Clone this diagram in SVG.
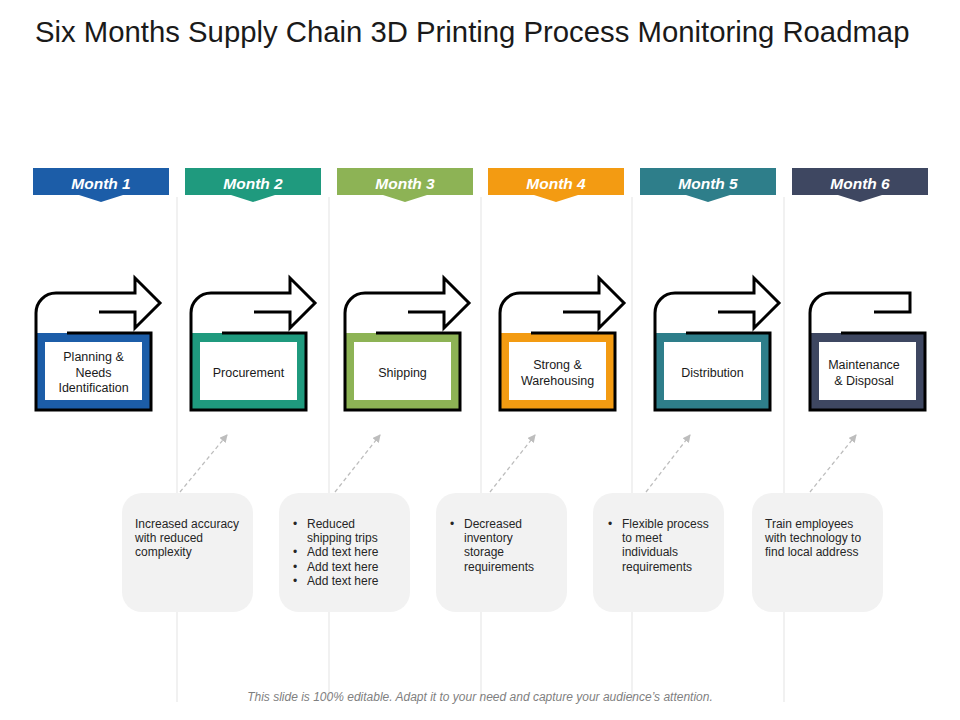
<svg xmlns="http://www.w3.org/2000/svg" xmlns:xlink="http://www.w3.org/1999/xlink" width="960" height="720" viewBox="0 0 960 720">
<style>
  text { font-family: "Liberation Sans", Arial, sans-serif; }
  .title { font-size: 29.3px; fill: #1a1a1a; }
  .tabtxt { font-size: 15.5px; font-weight: bold; font-style: italic; fill: #ffffff; text-anchor: middle; }
  .lbl { font-size: 12.5px; fill: #1a1a1a; text-anchor: middle; }
  .note { fill: #f2f2f2; }
  .ntxt { font-size: 12px; fill: #262626; }
  .sep { stroke: #e3e3e3; stroke-width: 1; }
  .flow { fill: none; stroke: #000; stroke-width: 3; stroke-linejoin: miter; }
  .inner { fill: #ffffff; }
  .dash { stroke: #bdbdbd; stroke-width: 1.3; stroke-dasharray: 4 3; fill: none; }
  .foot { font-size: 12px; font-style: italic; fill: #7f7f7f; text-anchor: middle; }
  .c1 { fill: #1c5da8; } .c2 { fill: #1f9a7e; } .c3 { fill: #8db355; }
  .c4 { fill: #f39b12; } .c5 { fill: #2e7e8a; } .c6 { fill: #3e4761; }
</style>
<defs>
  <path id="flow" d="M64,312 H100 V328 L125,303 L100,278 V293 H21 A20,20 0 0 0 1,313 V410 H116 V333 H32"/>
  <path id="flowEnd" d="M65,312 H101 V293 H21 A20,20 0 0 0 1,313 V410 H116 V333 H32"/>
  <path id="tab" d="M-68,168 H68 V195 H22 L0,202 L-22,195 H-68 Z"/>
  <marker id="ah" markerWidth="8" markerHeight="8" refX="7" refY="4" orient="auto" markerUnits="userSpaceOnUse">
    <path d="M0,0 L8,4 L0,8 Z" fill="#bdbdbd"/>
  </marker>
</defs>

<rect width="960" height="720" fill="#ffffff"/>

<text class="title" x="35" y="42">Six Months Supply Chain 3D Printing Process Monitoring Roadmap</text>

<g id="separators">
  <line class="sep" x1="177" y1="197" x2="177" y2="702"/>
  <line class="sep" x1="329" y1="197" x2="329" y2="702"/>
  <line class="sep" x1="481" y1="197" x2="481" y2="702"/>
  <line class="sep" x1="632" y1="197" x2="632" y2="702"/>
  <line class="sep" x1="784" y1="197" x2="784" y2="702"/>
</g>

<g id="month1">
  <use xlink:href="#tab" href="#tab" x="101" class="c1"/>
  <text class="tabtxt" x="101" y="189">Month 1</text>
  <rect class="c1" x="36" y="333" width="115" height="77"/>
  <rect class="inner" x="45" y="342" width="97" height="58"/>
  <use xlink:href="#flow" href="#flow" x="35" class="flow"/>
  <text class="lbl" x="93.5" y="361">Planning &amp;</text>
  <text class="lbl" x="93.5" y="377">Needs</text>
  <text class="lbl" x="93.5" y="392">Identification</text>
</g>

<g id="month2">
  <use xlink:href="#tab" href="#tab" x="253" class="c2"/>
  <text class="tabtxt" x="253" y="189">Month 2</text>
  <rect class="c2" x="191" y="333" width="115" height="77"/>
  <rect class="inner" x="200" y="342" width="97" height="58"/>
  <use xlink:href="#flow" href="#flow" x="190" class="flow"/>
  <text class="lbl" x="248.5" y="377">Procurement</text>
</g>

<g id="month3">
  <use xlink:href="#tab" href="#tab" x="405" class="c3"/>
  <text class="tabtxt" x="405" y="189">Month 3</text>
  <rect class="c3" x="345" y="333" width="115" height="77"/>
  <rect class="inner" x="354" y="342" width="97" height="58"/>
  <use xlink:href="#flow" href="#flow" x="344" class="flow"/>
  <text class="lbl" x="402.5" y="377">Shipping</text>
</g>

<g id="month4">
  <use xlink:href="#tab" href="#tab" x="556" class="c4"/>
  <text class="tabtxt" x="556" y="189">Month 4</text>
  <rect class="c4" x="500" y="333" width="115" height="77"/>
  <rect class="inner" x="509" y="342" width="97" height="58"/>
  <use xlink:href="#flow" href="#flow" x="499" class="flow"/>
  <text class="lbl" x="557.5" y="369">Strong &amp;</text>
  <text class="lbl" x="557.5" y="385">Warehousing</text>
</g>

<g id="month5">
  <use xlink:href="#tab" href="#tab" x="708" class="c5"/>
  <text class="tabtxt" x="708" y="189">Month 5</text>
  <rect class="c5" x="655" y="333" width="115" height="77"/>
  <rect class="inner" x="664" y="342" width="97" height="58"/>
  <use xlink:href="#flow" href="#flow" x="654" class="flow"/>
  <text class="lbl" x="712.5" y="377">Distribution</text>
</g>

<g id="month6">
  <use xlink:href="#tab" href="#tab" x="860" class="c6"/>
  <text class="tabtxt" x="860" y="189">Month 6</text>
  <rect class="c6" x="810" y="333" width="115" height="77"/>
  <rect class="inner" x="819" y="342" width="97" height="58"/>
  <use xlink:href="#flowEnd" href="#flowEnd" x="809" class="flow"/>
  <text class="lbl" x="864" y="369">Maintenance</text>
  <text class="lbl" x="864" y="385">&amp; Disposal</text>
</g>

<g id="connectors">
  <line class="dash" x1="180" y1="492" x2="227" y2="435" marker-end="url(#ah)"/>
  <line class="dash" x1="335" y1="492" x2="380" y2="435" marker-end="url(#ah)"/>
  <line class="dash" x1="490" y1="492" x2="535" y2="435" marker-end="url(#ah)"/>
  <line class="dash" x1="646" y1="492" x2="690" y2="435" marker-end="url(#ah)"/>
  <line class="dash" x1="810" y1="492" x2="856" y2="435" marker-end="url(#ah)"/>
</g>

<g id="note1">
  <rect class="note" x="122" y="493" width="131" height="119" rx="20"/>
  <text class="ntxt" x="135" y="528">Increased accuracy</text>
  <text class="ntxt" x="135" y="542">with reduced</text>
  <text class="ntxt" x="135" y="556">complexity</text>
</g>

<g id="note2">
  <rect class="note" x="279" y="493" width="131" height="119" rx="20"/>
  <text class="ntxt" x="293" y="528">•</text>
  <text class="ntxt" x="307" y="528">Reduced</text>
  <text class="ntxt" x="307" y="542">shipping trips</text>
  <text class="ntxt" x="293" y="556">•</text>
  <text class="ntxt" x="307" y="556">Add text here</text>
  <text class="ntxt" x="293" y="571">•</text>
  <text class="ntxt" x="307" y="571">Add text here</text>
  <text class="ntxt" x="293" y="585">•</text>
  <text class="ntxt" x="307" y="585">Add text here</text>
</g>

<g id="note3">
  <rect class="note" x="436" y="493" width="131" height="119" rx="20"/>
  <text class="ntxt" x="450" y="528">•</text>
  <text class="ntxt" x="464" y="528">Decreased</text>
  <text class="ntxt" x="464" y="542">inventory</text>
  <text class="ntxt" x="464" y="556">storage</text>
  <text class="ntxt" x="464" y="571">requirements</text>
</g>

<g id="note4">
  <rect class="note" x="593" y="493" width="131" height="119" rx="20"/>
  <text class="ntxt" x="608" y="528">•</text>
  <text class="ntxt" x="622" y="528">Flexible process</text>
  <text class="ntxt" x="622" y="542">to meet</text>
  <text class="ntxt" x="622" y="556">individuals</text>
  <text class="ntxt" x="622" y="571">requirements</text>
</g>

<g id="note5">
  <rect class="note" x="752" y="493" width="131" height="119" rx="20"/>
  <text class="ntxt" x="765" y="528">Train employees</text>
  <text class="ntxt" x="765" y="542">with technology to</text>
  <text class="ntxt" x="765" y="556">find local address</text>
</g>

<text class="foot" x="480" y="701">This slide is 100% editable. Adapt it to your need and capture your audience’s attention.</text>
</svg>
